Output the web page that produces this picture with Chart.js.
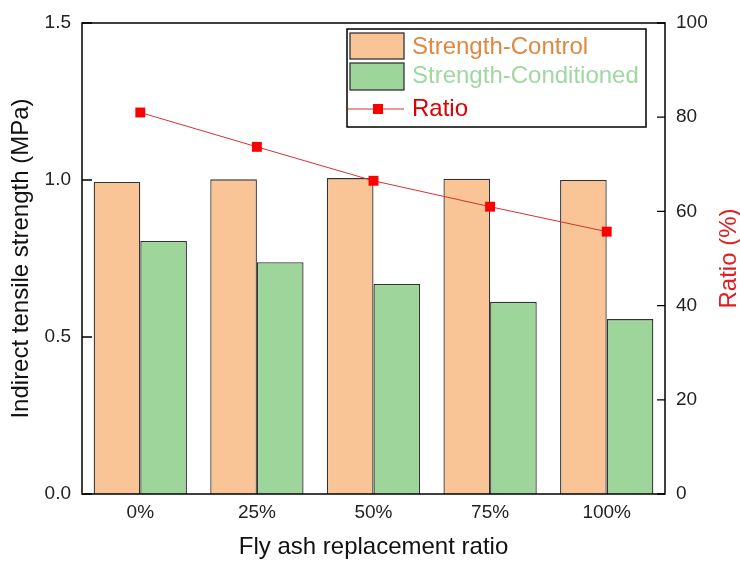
<!DOCTYPE html>
<html><head><meta charset="utf-8">
<script src="https://cdn.jsdelivr.net/npm/chart.js@4.4.1/dist/chart.umd.min.js"></script>
<style>html,body{margin:0;padding:0;background:#fff;}</style>
</head><body>
<canvas id="c" width="740" height="562"></canvas>
<script>
const categories = ['0%', '25%', '50%', '75%', '100%'];
const strengthControl = [0.994, 1.002, 1.006, 1.004, 1.000];
const strengthConditioned = [0.806, 0.738, 0.669, 0.612, 0.557];
const ratio = [81.0, 73.7, 66.5, 61.0, 55.7];
const leftTicks = [0, 0.5, 1.0, 1.5];
const rightTicks = [0, 20, 40, 60, 80, 100];

const FONT = '"Liberation Sans", Arial, sans-serif';
const ORANGE = '#f9c496';
const GREEN = '#9dd59b';
const RED = '#ff0000';

const framePlugin = {
  id: 'frame',
  afterDatasetsDraw(chart) {
    const {ctx, chartArea: a} = chart;
    ctx.save();
    ctx.strokeStyle = '#000';
    ctx.lineWidth = 1.5;
    ctx.strokeRect(a.left, a.top, a.right - a.left, a.bottom - a.top);
    ctx.lineWidth = 1.3;
    ctx.beginPath();
    leftTicks.forEach(v => {
      const y = chart.scales.y.getPixelForValue(v);
      ctx.moveTo(a.left, y); ctx.lineTo(a.left + 10, y);
    });
    rightTicks.forEach(v => {
      const y = chart.scales.y1.getPixelForValue(v);
      ctx.moveTo(a.right, y); ctx.lineTo(a.right - 8, y);
    });
    ctx.stroke();
    ctx.restore();
  },
  afterDraw(chart) {
    const {ctx, chartArea: a} = chart;
    const ds = chart.data.datasets;
    ctx.save();
    // right axis title
    ctx.translate(729, (a.top + a.bottom) / 2);
    ctx.rotate(-Math.PI / 2);
    ctx.fillStyle = '#e02020';
    ctx.font = '24px ' + FONT;
    ctx.textAlign = 'center';
    ctx.textBaseline = 'middle';
    ctx.fillText('Ratio (%)', 0, 0);
    ctx.restore();

    // legend
    const bx = a.right - 318, by = a.top + 6, bw = 299, bh = 98;
    ctx.save();
    ctx.fillStyle = '#fff';
    ctx.fillRect(bx, by, bw, bh);
    ctx.strokeStyle = '#000';
    ctx.lineWidth = 1.5;
    ctx.strokeRect(bx, by, bw, bh);
    ctx.font = '24px ' + FONT;
    ctx.textBaseline = 'middle';
    ctx.textAlign = 'left';
    const textColors = ['#e0883f', '#9fd8a0', '#dd0000'];
    // swatch 1
    ctx.lineWidth = 1.3;
    ctx.strokeStyle = '#333';
    ctx.fillStyle = ds[0].backgroundColor;
    ctx.fillRect(bx + 3, by + 4, 54, 26); ctx.strokeRect(bx + 3, by + 4, 54, 26);
    ctx.fillStyle = ds[1].backgroundColor;
    ctx.fillRect(bx + 3, by + 34, 54, 27); ctx.strokeRect(bx + 3, by + 34, 54, 27);
    // line swatch
    const ly = by + 80;
    ctx.strokeStyle = ds[2].borderColor;
    ctx.lineWidth = 1;
    ctx.beginPath(); ctx.moveTo(bx + 1, ly); ctx.lineTo(bx + 57, ly); ctx.stroke();
    ctx.fillStyle = RED;
    ctx.fillRect(bx + 26, ly - 5, 10, 10);
    ctx.fillStyle = textColors[0]; ctx.fillText(ds[0].label, bx + 65, by + 18);
    ctx.fillStyle = textColors[1]; ctx.fillText(ds[1].label, bx + 65, by + 47);
    ctx.fillStyle = textColors[2]; ctx.fillText(ds[2].label, bx + 65, ly);
    ctx.restore();
  }
};

new Chart(document.getElementById('c'), {
  data: {
    labels: categories,
    datasets: [
      { type: 'bar', label: 'Strength-Control', data: strengthControl, yAxisID: 'y',
        backgroundColor: ORANGE, borderColor: '#333', borderWidth: 1.3, order: 2 },
      { type: 'bar', label: 'Strength-Conditioned', data: strengthConditioned, yAxisID: 'y',
        backgroundColor: GREEN, borderColor: '#333', borderWidth: 1.3, order: 2 },
      { type: 'line', label: 'Ratio', data: ratio, yAxisID: 'y1',
        borderColor: '#d83030', borderWidth: 1, pointStyle: 'rect', pointRadius: 7,
        pointBackgroundColor: RED, pointBorderWidth: 0, pointHoverRadius: 7, order: 0 }
    ]
  },
  options: {
    responsive: false,
    animation: false,
    devicePixelRatio: 1,
    layout: { padding: { top: 23, left: 0, right: 0, bottom: 0 } },
    plugins: { legend: { display: false }, tooltip: { enabled: false } },
    datasets: { bar: { categoryPercentage: 0.8, barPercentage: 1.0 } },
    scales: {
      x: {
        type: 'category',
        offset: true,
        grid: { display: false, drawTicks: false },
        border: { display: false },
        ticks: { color: '#222', font: { family: FONT, size: 19 }, padding: 7 },
        title: { display: true, text: 'Fly ash replacement ratio', color: '#111',
                 font: { family: FONT, size: 24 }, padding: { top: 0, bottom: 0 } },
        afterFit(s) { s.height = 68; }
      },
      y: {
        type: 'linear', position: 'left', min: 0, max: 1.5,
        grid: { display: false, drawTicks: false },
        border: { display: false },
        afterBuildTicks(s) { s.ticks = leftTicks.map(v => ({ value: v })); },
        ticks: { color: '#222', font: { family: FONT, size: 19 }, padding: 11,
                 callback: v => Number(v).toFixed(1) },
        title: { display: true, text: 'Indirect tensile strength (MPa)', color: '#111',
                 font: { family: FONT, size: 24 }, padding: { top: 7, bottom: 0 } },
        afterFit(s) { s.width = 82; }
      },
      y1: {
        type: 'linear', position: 'right', min: 0, max: 100,
        grid: { display: false, drawTicks: false },
        border: { display: false },
        afterBuildTicks(s) { s.ticks = rightTicks.map(v => ({ value: v })); },
        ticks: { color: '#222', font: { family: FONT, size: 19 }, padding: 11,
                 callback: v => String(v) },
        afterFit(s) { s.width = 75; }
      }
    }
  },
  plugins: [framePlugin]
});
</script>
</body></html>
